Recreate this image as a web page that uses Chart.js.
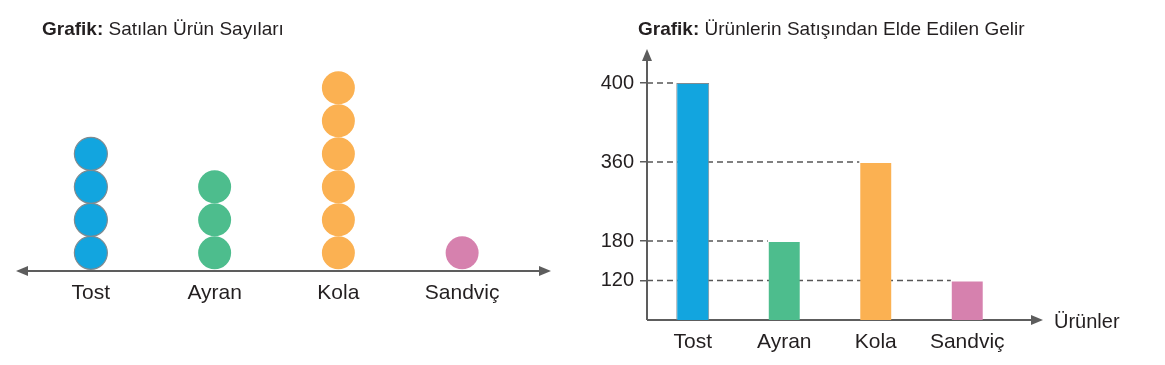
<!DOCTYPE html>
<html>
<head>
<meta charset="utf-8">
<script src="https://cdn.jsdelivr.net/npm/chart.js@4/dist/chart.umd.min.js"></script>
<style>
  html, body { margin: 0; padding: 0; background: #fff; }
  body { width: 1165px; height: 365px; position: relative; overflow: hidden; font-family: 'Liberation Sans', Arial, sans-serif; color: #231f20; }
  .box { position: absolute; top: 0; height: 365px; }
  #leftBox { left: 0; width: 580px; }
  #rightBox { left: 580px; width: 585px; }
  .title { position: absolute; top: 18px; font-size: 19px; white-space: nowrap; }
  #axisName { position: absolute; left: 1054px; top: 310px; font-size: 20px; }
</style>
</head>
<body>
<div class="box" id="leftBox"><canvas id="countChart"></canvas></div>
<div class="box" id="rightBox"><canvas id="incomeChart"></canvas></div>
<div class="title" style="left:42px"><b>Grafik:</b> Satılan Ürün Sayıları</div>
<div class="title" style="left:638px"><b>Grafik:</b> Ürünlerin Satışından Elde Edilen Gelir</div>
<div id="axisName">Ürünler</div>
<script>
const products = ['Tost', 'Ayran', 'Kola', 'Sandviç'];
const soldCounts = [4, 3, 6, 1];
const income = [400, 180, 360, 120];
const incomeTicks = [120, 180, 360, 400];

const fills = ['#12a5df', '#4dbd8d', '#fbb152', '#d681ae'];
const outlines = ['#7f8b91', 'rgba(0,0,0,0)', 'rgba(0,0,0,0)', 'rgba(0,0,0,0)'];
const axisGray = '#5d5d5d';
const textColor = '#231f20';

Chart.defaults.font.family = "'Liberation Sans', Arial, sans-serif";
Chart.defaults.color = textColor;

// the book's y axis is not drawn to scale, ticks sit on uneven steps
const stepStops = [0, ...incomeTicks];
const stepSlots = [0, 1, 2, 4, 6];

class StepScale extends Chart.LinearScale {
  toSlot(v) {
    for (let i = 1; i < stepStops.length; i++) {
      if (v <= stepStops[i] || i === stepStops.length - 1) {
        const t = (v - stepStops[i - 1]) / (stepStops[i] - stepStops[i - 1]);
        return stepSlots[i - 1] + t * (stepSlots[i] - stepSlots[i - 1]);
      }
    }
  }
  fromSlot(s) {
    for (let i = 1; i < stepSlots.length; i++) {
      if (s <= stepSlots[i] || i === stepSlots.length - 1) {
        const t = (s - stepSlots[i - 1]) / (stepSlots[i] - stepSlots[i - 1]);
        return stepStops[i - 1] + t * (stepStops[i] - stepStops[i - 1]);
      }
    }
  }
  getPixelForValue(v) {
    if (v === null || isNaN(v)) return NaN;
    return this.getPixelForDecimal(this.toSlot(v) / stepSlots[stepSlots.length - 1]);
  }
  getValueForPixel(p) {
    return this.fromSlot(this.getDecimalForPixel(p) * stepSlots[stepSlots.length - 1]);
  }
}
StepScale.id = 'step';
StepScale.defaults = Chart.LinearScale.defaults;
Chart.register(StepScale);

function arrowHead(ctx, x, y, dir) {
  const len = 12, half = 5;
  ctx.beginPath();
  if (dir === 'left') { ctx.moveTo(x, y); ctx.lineTo(x + len, y - half); ctx.lineTo(x + len, y + half); }
  if (dir === 'right') { ctx.moveTo(x, y); ctx.lineTo(x - len, y - half); ctx.lineTo(x - len, y + half); }
  if (dir === 'up') { ctx.moveTo(x, y); ctx.lineTo(x - half, y + len); ctx.lineTo(x + half, y + len); }
  ctx.closePath();
  ctx.fill();
}

// ---- left: dot plot ----
const dotAxis = {
  id: 'dotAxis',
  beforeDatasetsDraw(chart) {
    const { ctx, chartArea } = chart;
    const y = chartArea.bottom;
    const x1 = chartArea.left - 13, x2 = chartArea.right + 27;
    ctx.save();
    ctx.strokeStyle = axisGray;
    ctx.fillStyle = axisGray;
    ctx.lineWidth = 2;
    ctx.beginPath();
    ctx.moveTo(x1 + 6, y);
    ctx.lineTo(x2 - 6, y);
    ctx.stroke();
    arrowHead(ctx, x1, y, 'left');
    arrowHead(ctx, x2, y, 'right');
    ctx.restore();
  }
};

new Chart(document.getElementById('countChart'), {
  type: 'scatter',
  data: {
    datasets: products.map((p, i) => ({
      label: p,
      data: Array.from({ length: soldCounts[i] }, (_, k) => ({ x: p, y: k + 1 })),
      backgroundColor: fills[i],
      borderColor: outlines[i],
      borderWidth: i === 0 ? 1.2 : 0,
      pointRadius: 16.5,
      pointHoverRadius: 16.5,
      clip: false
    }))
  },
  options: {
    responsive: true,
    maintainAspectRatio: false,
    animation: false,
    layout: { padding: { left: 29, right: 56, top: 72, bottom: 0 } },
    plugins: { legend: { display: false }, tooltip: { enabled: false } },
    scales: {
      x: {
        type: 'category',
        labels: products,
        offset: true,
        grid: { display: false, drawTicks: false },
        border: { display: false },
        afterFit: s => { s.height = 94; },
        ticks: { color: textColor, font: { size: 21 }, padding: 10 }
      },
      y: { display: false, min: 0.45, max: 6.48 }
    }
  },
  plugins: [dotAxis]
});

// ---- right: bar chart ----
const barAxes = {
  id: 'barAxes',
  beforeDatasetsDraw(chart) {
    const { ctx, chartArea } = chart;
    const bars = chart.getDatasetMeta(0).data;
    ctx.save();
    // dashed guide from the y axis to each bar top
    ctx.strokeStyle = '#575757';
    ctx.lineWidth = 1.5;
    ctx.setLineDash([6, 4]);
    bars.forEach(b => {
      ctx.beginPath();
      ctx.moveTo(chartArea.left, b.y);
      ctx.lineTo(b.x - b.width / 2, b.y);
      ctx.stroke();
    });
    ctx.setLineDash([]);
    ctx.strokeStyle = axisGray;
    ctx.fillStyle = axisGray;
    ctx.lineWidth = 2;
    const x0 = chartArea.left, y0 = chartArea.bottom;
    const top = chartArea.top - 34, right = chartArea.right + 30;
    ctx.beginPath();
    ctx.moveTo(x0, y0);
    ctx.lineTo(x0, top + 6);
    ctx.moveTo(x0, y0);
    ctx.lineTo(right - 6, y0);
    ctx.stroke();
    arrowHead(ctx, x0, top, 'up');
    arrowHead(ctx, right, y0, 'right');
    ctx.restore();
  }
};

new Chart(document.getElementById('incomeChart'), {
  type: 'bar',
  data: {
    labels: products,
    datasets: [{
      data: income,
      backgroundColor: fills,
      borderColor: outlines,
      borderWidth: 1,
      barPercentage: 0.36,
      categoryPercentage: 1
    }]
  },
  options: {
    responsive: true,
    maintainAspectRatio: false,
    animation: false,
    layout: { padding: { left: 0, right: 152, top: 83, bottom: 0 } },
    plugins: { legend: { display: false }, tooltip: { enabled: false } },
    scales: {
      x: {
        grid: { display: false, drawTicks: false },
        border: { display: false },
        afterFit: s => { s.height = 45; },
        ticks: { color: textColor, font: { size: 21 }, padding: 10 }
      },
      y: {
        type: 'step',
        min: 0,
        max: 400,
        afterBuildTicks: s => { s.ticks = incomeTicks.map(v => ({ value: v })); },
        afterFit: s => { s.width = 67; },
        grid: { drawOnChartArea: false, drawTicks: true, tickLength: 7, color: axisGray, lineWidth: 1.5 },
        border: { display: false },
        ticks: { color: textColor, font: { size: 20 }, padding: 6 }
      }
    }
  },
  plugins: [barAxes]
});
</script>
</body>
</html>
